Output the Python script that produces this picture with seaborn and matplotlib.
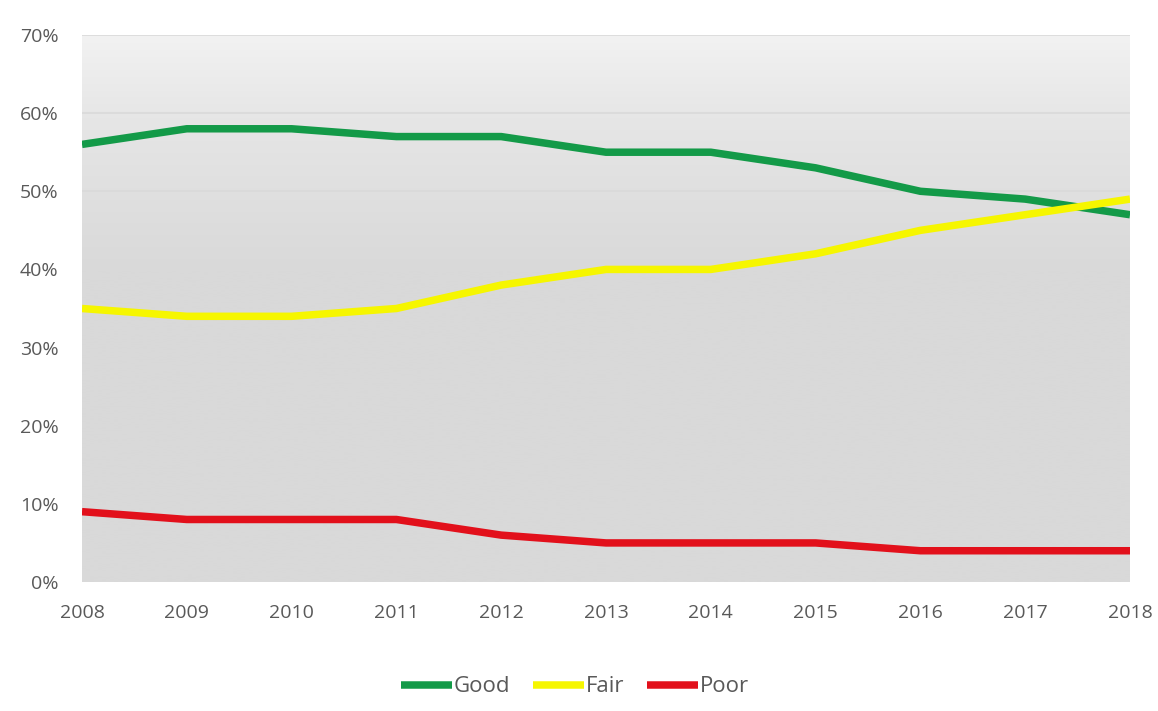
import numpy as np
import pandas as pd
import matplotlib
matplotlib.use("Agg")
import matplotlib.pyplot as plt
from matplotlib.colors import LinearSegmentedColormap
from matplotlib.ticker import PercentFormatter
import seaborn as sns

# Condition shares by year (percent)
years = [2008, 2009, 2010, 2011, 2012, 2013, 2014, 2015, 2016, 2017, 2018]
good = [56, 58, 58, 57, 57, 55, 55, 53, 50, 49, 47]
fair = [35, 34, 34, 35, 38, 40, 40, 42, 45, 47, 49]
poor = [9, 8, 8, 8, 6, 5, 5, 5, 4, 4, 4]
series_names = ["Good", "Fair", "Poor"]
series_colors = ["#139a48", "#f6f600", "#e2101b"]
y_ticks = [0, 10, 20, 30, 40, 50, 60, 70]

df = pd.DataFrame({"Year": years, "Good": good, "Fair": fair, "Poor": poor})
long_df = df.melt(id_vars="Year", var_name="Condition", value_name="Share")

sns.set_theme(style="white")
plt.rcParams["font.family"] = ["Open Sans", "DejaVu Sans"]

fig = plt.figure(figsize=(11.58, 7.11), dpi=100)
ax = fig.add_axes([82 / 1158, 1 - 582 / 711, (1130 - 82) / 1158, (582 - 35) / 711])

# Plot-area fill: light grey at the top fading into a flat darker grey below ~40%
grad_cmap = LinearSegmentedColormap.from_list(
    "bg", [(0.0, "#d9d9d9"), (0.57, "#d9d9d9"), (0.85, "#e6e6e6"), (1.0, "#f2f2f2")])
grad = np.linspace(0, 1, 256).reshape(-1, 1)
ax.imshow(grad, aspect="auto", cmap=grad_cmap, origin="lower",
          extent=[years[0], years[-1], 0, 70], zorder=0, interpolation="bilinear")

for yv in y_ticks:
    ax.axhline(yv, color="#d9d9d9", lw=1.2, zorder=1)

sns.lineplot(data=long_df, x="Year", y="Share", hue="Condition",
             hue_order=series_names, palette=series_colors,
             linewidth=5.4, ax=ax, legend=True, zorder=3)
for ln in ax.lines:
    ln.set_solid_capstyle("butt")
    ln.set_solid_joinstyle("round")

ax.set_xlim(years[0], years[-1])
ax.set_ylim(0, 70)
ax.set_xticks(years)
ax.set_yticks(y_ticks)
ax.yaxis.set_major_formatter(PercentFormatter(decimals=0))
ax.set_xlabel("")
ax.set_ylabel("")
for s in ax.spines.values():
    s.set_visible(False)
ax.tick_params(axis="both", length=0, labelsize=14, colors="#595959")
ax.tick_params(axis="x", pad=16)
ax.tick_params(axis="y", pad=17)

handles, labels = ax.get_legend_handles_labels()
ax.legend_.remove()
leg = fig.legend(handles, labels, loc="center", bbox_to_anchor=(575 / 1158, 1 - 687 / 711),
                 ncol=3, frameon=False, fontsize=16, handlelength=2.3,
                 handletextpad=0.1, columnspacing=1.0)
for t in leg.get_texts():
    t.set_color("#595959")
for h in leg.get_lines():
    h.set_linewidth(5.4)

fig.savefig("out.png", dpi=100)
